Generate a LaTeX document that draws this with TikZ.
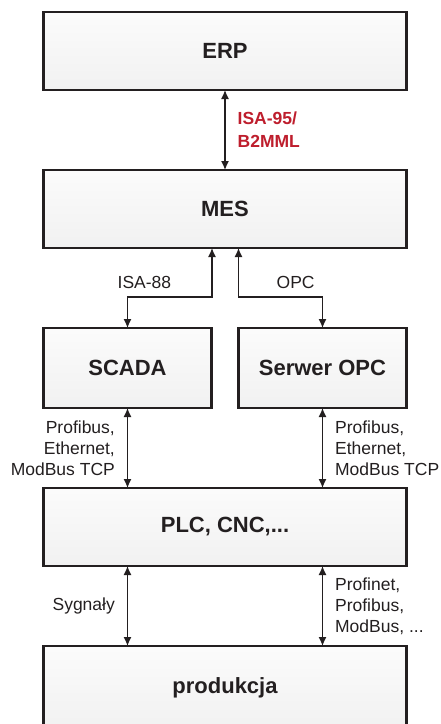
\documentclass[tikz,border=0pt]{standalone}
\usepackage{fontspec}
\setmainfont{Liberation Sans}
\usepackage{tikz}
\usetikzlibrary{arrows.meta, positioning, shapes}
\definecolor{ink}{HTML}{231F20}
\definecolor{isared}{HTML}{BE1E2D}
\tikzstyle{block} = [draw=ink, line width=2.6pt, rectangle, top color=gray!3,
    bottom color=gray!11, minimum height=78pt, minimum width=363pt,
    outer sep=0pt, text=ink, font=\bfseries\fontsize{22}{26}\selectfont]
\tikzstyle{link} = [arrows=<->, ink, line width=1.3pt]
\tikzstyle{tag} = [inner sep=0pt, text=ink, font=\fontsize{17.5}{21}\selectfont]

\begin{document}
\begin{tikzpicture}[>={Latex[length=9pt,width=8pt]}]
    \useasboundingbox (0,0) rectangle (440pt,-724pt);

    % Place the blocks
    \node [block] (erp) at (225pt,-51pt) {ERP};
    \node [block, below=80pt of erp] (mes) {MES};
    \node [block, minimum width=168pt, minimum height=80pt,
        below=80pt of mes.south west, anchor=north west] (scada) {SCADA};
    \node [block, minimum width=168pt, minimum height=80pt,
        below=80pt of mes.south east, anchor=north east] (opc) {Serwer OPC};
    \node [block, below=80pt of scada.south west, anchor=north west] (plc) {PLC, CNC,...};
    \node [block, minimum height=84pt, below=80pt of plc] (prod) {produkcja};

    % Connect the nodes
    \draw [link] (erp) -- node[tag, right=12pt, align=left, text=isared,
        font=\bfseries\fontsize{17.5}{23}\selectfont] {ISA-95/\\B2MML} (mes);
    \draw [link] ([xshift=-13pt]mes.south) |- node[tag, pos=0.9, above=7.5pt] {ISA-88}
        ([yshift=31pt]scada.north) -- (scada.north);
    \draw [link] ([xshift=13.5pt]mes.south) |- node[tag, pos=0.84, above=7.5pt] {OPC}
        ([yshift=31pt]opc.north) -- (opc.north);
    \draw [link] (scada) -- node[tag, left=12pt, align=right]
        {Profibus,\\Ethernet,\\ModBus TCP} (scada.south |- plc.north);
    \draw [link] (opc) -- node[tag, right=12pt, align=left]
        {Profibus,\\Ethernet,\\ModBus TCP} (opc.south |- plc.north);
    \draw [link] (plc.south -| scada) -- node[tag, left=12pt] {Sygnały} (prod.north -| scada);
    \draw [link] (plc.south -| opc) -- node[tag, right=12pt, align=left]
        {Profinet,\\Profibus,\\ModBus, ...} (prod.north -| opc);
\end{tikzpicture}
\end{document}
